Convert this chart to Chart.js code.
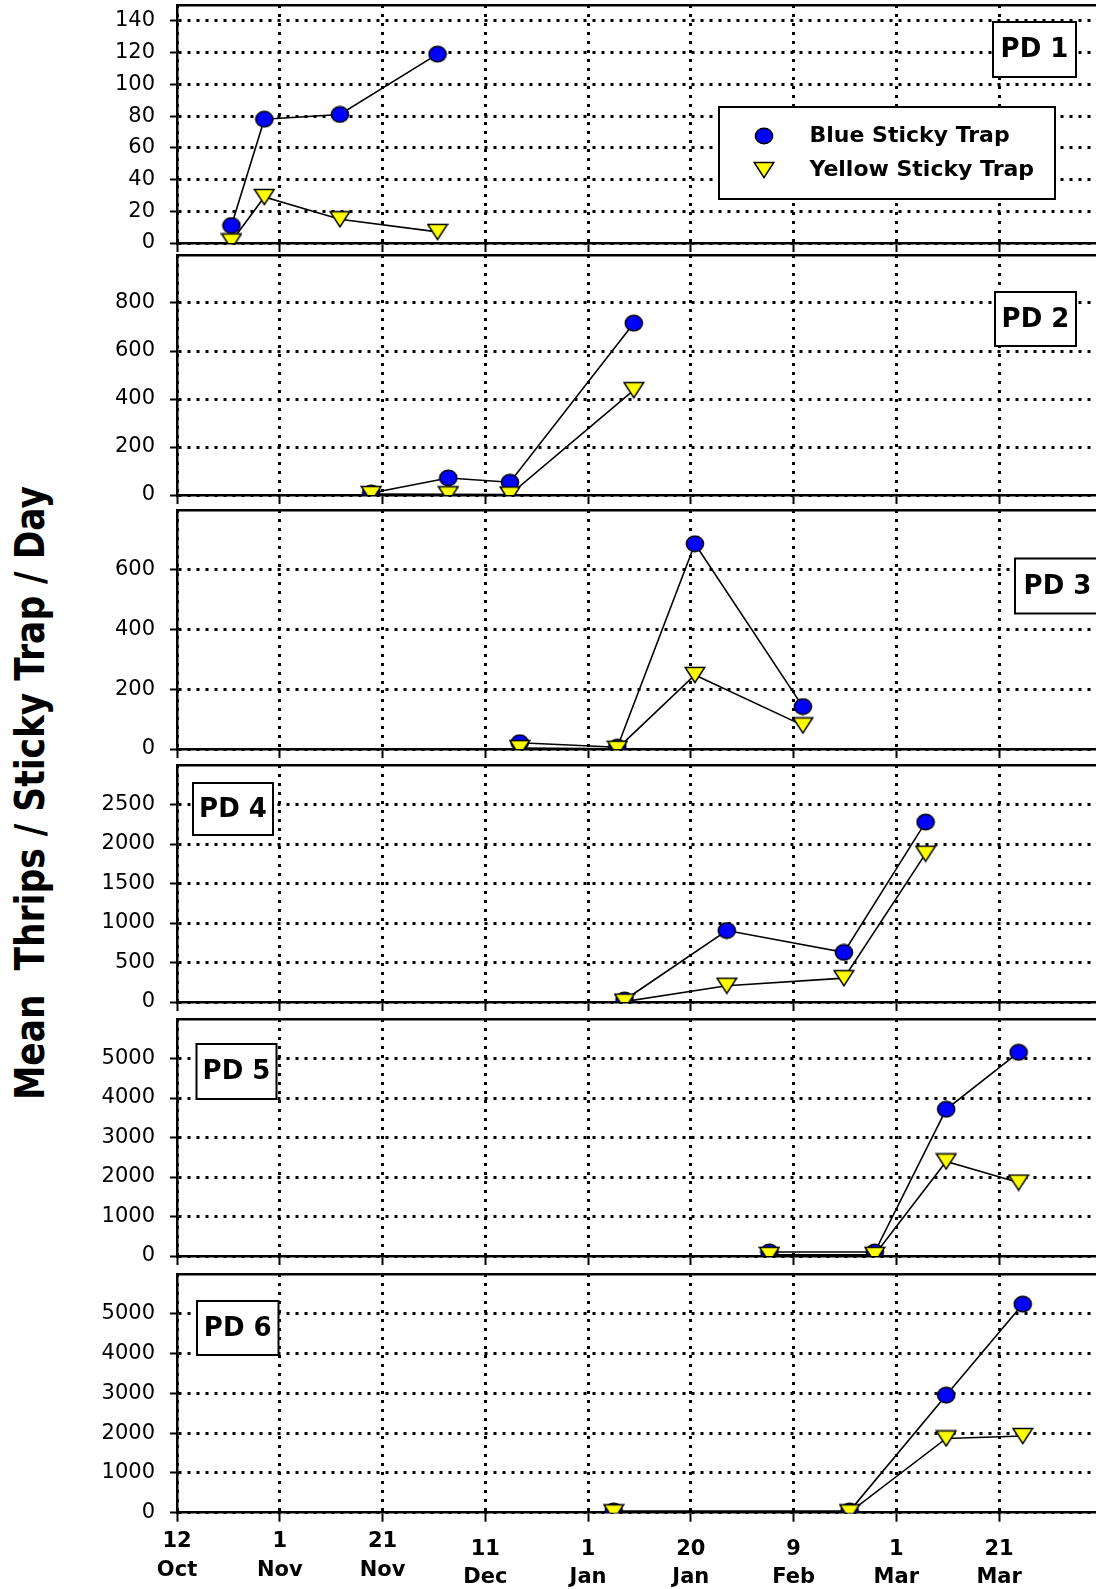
<!DOCTYPE html>
<html>
<head>
<meta charset="utf-8">
<script src="https://cdn.jsdelivr.net/npm/chart.js@4.4.1/dist/chart.umd.min.js"></script>
<style>
html, body { margin: 0; padding: 0; background: #fff; }
body { width: 1096px; height: 1589px; overflow: hidden; position: relative; }
canvas { position: absolute; left: 0; }
#ytitle {
  position: absolute; left: 30px; top: 793px;
  transform: translate(-50%, -50%) rotate(-90deg) scaleY(1.2);
  font: bold 34.5px "DejaVu Sans"; white-space: pre; line-height: 1; color: #000;
}
</style>
</head>
<body>
<div id="ytitle">Mean  Thrips / Sticky Trap / Day</div>
<script>
// ---------------- DATA ----------------
const seriesNames = ['Blue Sticky Trap', 'Yellow Sticky Trap'];
const panelNames = ['PD 1', 'PD 2', 'PD 3', 'PD 4', 'PD 5', 'PD 6'];

// x = days after 12 Oct
const xTickDays = [0, 20, 40, 60, 80, 100, 120, 140, 160];
const xTickLabels = [['12', 'Oct'], ['1', 'Nov'], ['21', 'Nov'], ['11', 'Dec'], ['1', 'Jan'],
                     ['20', 'Jan'], ['9', 'Feb'], ['1', 'Mar'], ['21', 'Mar']];
const xTickRow = ['upper', 'upper', 'upper', 'lower', 'lower', 'lower', 'lower', 'lower', 'lower'];

const pd1Days = [10.6, 17, 31.7, 50.7];
const pd1Blue = [11, 78, 81, 119];
const pd1Yellow = [1, 29, 15, 7];

const pd2Days = [37.8, 52.8, 64.8, 88.9];
const pd2Blue = [8, 71, 53, 716];
const pd2Yellow = [4, 3, 2, 437];

const pd3Days = [66.7, 85.7, 100.8, 121.8];
const pd3Blue = [21, 6, 687, 142];
const pd3Yellow = [3, 1, 248, 79];

const pd4Days = [87.1, 107, 129.8, 145.7];
const pd4Blue = [25, 905, 628, 2277];
const pd4Yellow = [5, 206, 302, 1878];

const pd5Days = [115.3, 135.8, 149.7, 163.8];
const pd5Blue = [100, 100, 3714, 5156];
const pd5Yellow = [30, 30, 2395, 1860];

const pd6Days = [85, 130.9, 149.7, 164.6];
const pd6Blue = [40, 40, 2954, 5242];
const pd6Yellow = [10, 10, 1867, 1929];

const yMaxes = [150, 1000, 800, 3000, 6000, 6000];
const ySteps = [20, 200, 200, 500, 1000, 1000];
const xMaxDay = 181;

// ---------------- LAYOUT (page pixels) ----------------
const panelTop = [5, 255, 509.5, 765, 1019, 1274];
const panelZero = [243.3, 495, 748.5, 1002.8, 1256.7, 1512.7];
const noteBoxes = [[993, 22, 1076, 77], [995, 292, 1076, 346], [1015, 558, 1100, 613],
                   [193, 783, 273, 835], [196.5, 1044, 276.5, 1099], [197, 1301, 278.5, 1355]];
const legendBox = [719, 107, 1055, 199];
const PAGE_H = 1589, CANVAS_W = 1107, AXIS_LEFT = 177, PAD_TOP = 3, GAP_AXIS_H = 14;

Chart.defaults.font.family = '"DejaVu Sans"';
Chart.defaults.color = '#000';

// marker images (bbox-centred shapes)
function makeCircle() {
  const c = document.createElement('canvas'); c.width = 20; c.height = 18;
  const g = c.getContext('2d');
  g.beginPath(); g.ellipse(10, 9, 8.6, 7.8, 0, 0, Math.PI * 2);
  g.fillStyle = '#0000FF'; g.fill(); g.lineWidth = 1.5; g.strokeStyle = '#000'; g.stroke();
  return c;
}
function makeTriangle() {
  const c = document.createElement('canvas'); c.width = 22; c.height = 18;
  const g = c.getContext('2d');
  g.beginPath(); g.moveTo(1.2, 1.5); g.lineTo(20.8, 1.5); g.lineTo(11, 16.6); g.closePath();
  g.fillStyle = '#FFFF00'; g.fill(); g.lineWidth = 1.5; g.lineJoin = 'miter'; g.strokeStyle = '#000'; g.stroke();
  return c;
}
const circleImg = makeCircle();
const triImg = makeTriangle();

const notePlugin = {
  id: 'pdNote',
  afterDraw(chart, args, opts) {
    const ctx = chart.ctx;
    const off = opts.offsetTop;
    const b = opts.box;
    ctx.save();
    ctx.fillStyle = '#fff'; ctx.strokeStyle = '#000'; ctx.lineWidth = 2;
    ctx.fillRect(b[0], b[1] - off, b[2] - b[0], b[3] - b[1]);
    ctx.strokeRect(b[0], b[1] - off, b[2] - b[0], b[3] - b[1]);
    ctx.fillStyle = '#000'; ctx.font = 'bold 26px "DejaVu Sans"';
    ctx.textAlign = 'center'; ctx.textBaseline = 'middle';
    ctx.fillText(opts.text, (b[0] + b[2]) / 2, (b[1] + b[3]) / 2 - off + 1);
    if (opts.legend) {
      const L = opts.legend;
      ctx.fillStyle = '#fff';
      ctx.fillRect(L[0], L[1] - off, L[2] - L[0], L[3] - L[1]);
      ctx.strokeRect(L[0], L[1] - off, L[2] - L[0], L[3] - L[1]);
      ctx.font = 'bold 22px "DejaVu Sans"'; ctx.textAlign = 'left'; ctx.fillStyle = '#000';
      const rows = [L[1] + 29, L[1] + 63];
      chart.data.datasets.forEach((ds, i) => {
        const img = ds.pointStyle;
        const cy = rows[i] - off;
        ctx.drawImage(img, L[0] + 45 - img.width / 2, cy - img.height / 2);
        ctx.fillText(ds.label, L[0] + 90.5, cy);
      });
    }
    ctx.restore();
  }
};

const panels = [
  [pd1Days, pd1Blue, pd1Yellow], [pd2Days, pd2Blue, pd2Yellow], [pd3Days, pd3Blue, pd3Yellow],
  [pd4Days, pd4Blue, pd4Yellow], [pd5Days, pd5Blue, pd5Yellow], [pd6Days, pd6Blue, pd6Yellow]
];

function labelFor(v, row) {
  const k = xTickDays.indexOf(v);
  if (k < 0 || xTickRow[k] !== row) return '';
  return xTickLabels[k];
}

panels.forEach((p, i) => {
  const isBottom = i === panels.length - 1;
  const top = panelTop[i] - PAD_TOP;
  const xAxisH = isBottom ? PAGE_H - panelZero[i] : GAP_AXIS_H;
  const H = isBottom ? PAGE_H - top : (panelZero[i] - panelTop[i]) + PAD_TOP + GAP_AXIS_H;
  const cv = document.createElement('canvas');
  cv.width = CANVAS_W; cv.height = H; cv.style.top = top + 'px';
  document.body.appendChild(cv);

  const yMax = yMaxes[i];
  const hideTop = (ctx) => (ctx.tick && ctx.tick.value === yMax) ? 'rgba(0,0,0,0)' : '#000';
  const xTickFont = { family: '"DejaVu Sans"', size: 21, weight: 'bold', lineHeight: '29px' };

  const scales = {
    x: {
      type: 'linear', position: 'bottom', min: 0, max: xMaxDay,
      afterFit: (s) => { s.height = xAxisH; s.paddingLeft = 0; s.paddingRight = 0; },
      ticks: {
        stepSize: 20, includeBounds: false, autoSkip: false, maxRotation: 0, minRotation: 0,
        display: isBottom, padding: 5, color: '#000', font: xTickFont,
        callback: (v) => labelFor(v, 'upper')
      },
      grid: { color: '#000', lineWidth: 3, tickLength: 9, tickWidth: 2, tickColor: '#000', tickBorderDash: [] },
      border: { display: true, color: '#000', width: 2.5, dash: [3, 6] }
    },
    xt: {
      type: 'linear', position: 'top', min: 0, max: xMaxDay,
      afterFit: (s) => { s.height = 0; s.paddingLeft = 0; s.paddingRight = 0; },
      ticks: { display: false },
      grid: { display: false, drawTicks: false },
      border: { display: true, color: '#000', width: 2.5 }
    },
    y: {
      type: 'linear', position: 'left', min: 0, max: yMax,
      afterFit: (s) => { s.width = AXIS_LEFT; s.paddingTop = 0; s.paddingBottom = 0; },
      ticks: {
        stepSize: ySteps[i], includeBounds: false, padding: 15, color: '#000',
        font: { family: '"DejaVu Sans"', size: 21 },
        callback: (v) => v === yMax ? '' : String(v)
      },
      grid: { color: hideTop, lineWidth: 3, tickLength: 7, tickWidth: 2, tickColor: hideTop, tickBorderDash: [] },
      border: { display: true, color: '#000', width: 2.5, dash: [3, 6] }
    }
  };
  if (isBottom) {
    scales.x2 = {
      type: 'linear', position: { y: 0 }, min: 0, max: xMaxDay,
      afterFit: (s) => { s.paddingLeft = 0; s.paddingRight = 0; },
      ticks: {
        stepSize: 20, includeBounds: false, autoSkip: false, maxRotation: 0, minRotation: 0,
        padding: 23, color: '#000', font: { family: '"DejaVu Sans"', size: 21, weight: 'bold', lineHeight: '28px' },
        callback: (v) => labelFor(v, 'lower')
      },
      grid: { display: false, drawTicks: false },
      border: { display: false }
    };
  }

  const [days, blue, yellow] = p;
  new Chart(cv, {
    type: 'line',
    data: {
      datasets: [
        {
          label: seriesNames[0],
          data: days.map((d, k) => ({ x: d, y: blue[k] })),
          borderColor: '#000', borderWidth: 1.6, tension: 0, fill: false,
          pointStyle: circleImg, pointRadius: 9, pointBackgroundColor: '#0000FF',
          pointBorderColor: '#000', pointBorderWidth: 1.5, order: 1,
          xAxisID: 'x', yAxisID: 'y'
        },
        {
          label: seriesNames[1],
          data: days.map((d, k) => ({ x: d, y: yellow[k] })),
          borderColor: '#000', borderWidth: 1.6, tension: 0, fill: false,
          pointStyle: triImg, pointRadius: 10, pointBackgroundColor: '#FFFF00',
          pointBorderColor: '#000', pointBorderWidth: 1.5, order: 0,
          xAxisID: 'x', yAxisID: 'y'
        }
      ]
    },
    options: {
      responsive: false, animation: false, events: [],
      layout: { autoPadding: false, padding: { top: PAD_TOP, left: 0, right: 0, bottom: 0 } },
      plugins: {
        legend: { display: false }, tooltip: { enabled: false }, title: { display: false },
        pdNote: { text: panelNames[i], box: noteBoxes[i], offsetTop: top, legend: i === 0 ? legendBox : null }
      },
      scales: scales
    },
    plugins: [notePlugin]
  });
});
</script>
</body>
</html>
